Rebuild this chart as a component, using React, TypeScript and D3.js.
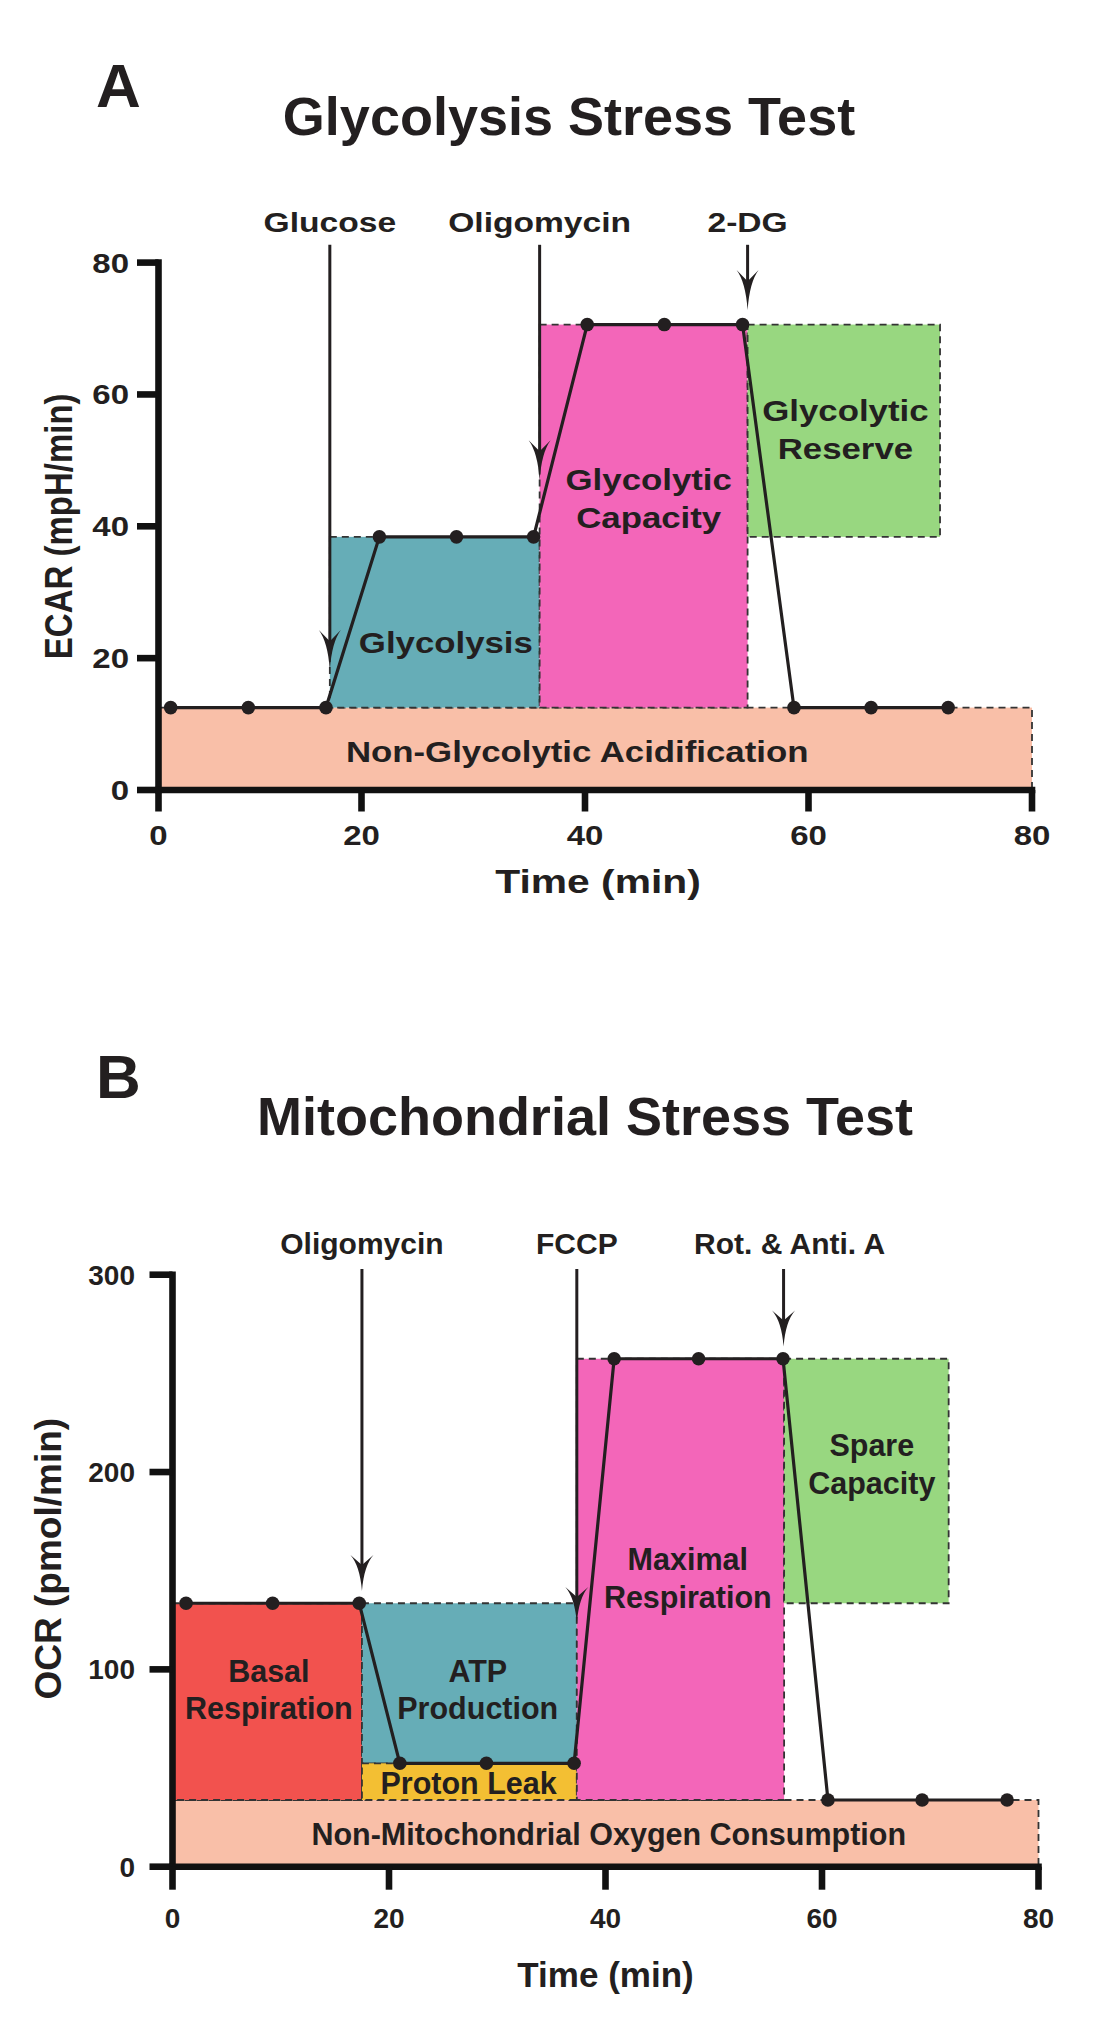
import React from 'react';
import * as d3 from 'd3';

// ---------- Panel A : Glycolysis Stress Test ----------
const aTime = [1.2, 8.85, 16.5, 21.6, 28.5, 35.4, 40.2, 47.1, 54.1, 58.7, 65.6, 72.5];
const aEcar = [12.5, 12.5, 12.5, 38.4, 38.4, 38.4, 70.6, 70.6, 70.6, 12.5, 12.5, 12.5];
const aXTicks = [0, 20, 40, 60, 80];
const aYTicks = [0, 20, 40, 60, 80];
const aInjLabels = ['Glucose', 'Oligomycin', '2-DG'];
const aInjTimes = [16.88, 35.94, 54.55];
const aInjLabelTimes = [16.88, 35.94, 54.55];
const aInjTips = [18.2, 47.0, 72.8];
const aRegionLines = [['Non-Glycolytic Acidification'], ['Glycolysis'], ['Glycolytic', 'Capacity'], ['Glycolytic', 'Reserve']];
const aRegionX0 = [0, 16.88, 35.94, 54.55];
const aRegionX1 = [80, 35.94, 54.55, 71.77];
const aRegionY0 = [0, 12.5, 12.5, 38.4];
const aRegionY1 = [12.5, 38.4, 70.6, 70.6];
const aRegionColors = ['#F9BFA8', '#66ADB7', '#F366B9', '#98D780'];
const aLabelX = [39.3, 27.55, 45.7, 63.3];
const aLabelY = [4.3, 20.8, 45.5, 55.9];

// ---------- Panel B : Mitochondrial Stress Test ----------
const bTime = [1.25, 9.25, 17.25, 21.0, 29.0, 37.1, 40.8, 48.6, 56.4, 60.55, 69.25, 77.1];
const bOcr = [133.5, 133.5, 133.5, 52.4, 52.4, 52.4, 257.4, 257.4, 257.4, 33.8, 33.8, 33.8];
const bXTicks = [0, 20, 40, 60, 80];
const bYTicks = [0, 100, 200, 300];
const bInjLabels = ['Oligomycin', 'FCCP', 'Rot. & Anti. A'];
const bInjTimes = [17.5, 37.35, 56.45];
const bInjLabelTimes = [17.5, 37.35, 57.0];
const bInjTips = [139.7, 123.5, 263.6];
const bRegionLines = [['Non-Mitochondrial Oxygen Consumption'], ['Basal', 'Respiration'], ['ATP', 'Production'], ['Proton Leak'], ['Maximal', 'Respiration'], ['Spare', 'Capacity']];
const bRegionX0 = [0, 0, 17.5, 17.5, 37.35, 56.5];
const bRegionX1 = [80, 17.5, 37.35, 37.35, 56.5, 71.7];
const bRegionY0 = [0, 33.8, 52.4, 33.8, 33.8, 133.5];
const bRegionY1 = [33.8, 133.5, 133.5, 52.4, 257.4, 257.4];
const bRegionColors = ['#F9BFA8', '#F2524E', '#66ADB7', '#F3BF33', '#F366B9', '#98D780'];
const bLabelX = [40.3, 8.9, 28.2, 27.35, 47.6, 64.6];
const bLabelY = [11.0, 93.75, 93.75, 36.8, 150.2, 208.0];

const FONT = "'Liberation Sans', Arial, Helvetica, sans-serif";
const INK = '#231F20';

type Layout = {
  letter: string; letterX: number; letterY: number;
  title: string; titleX: number; titleY: number; titleSize: number;
  xTitle: string; xTitleX: number; xTitleY: number; xTitleSize: number;
  yTitle: string; yTitleX: number; yTitleDy: number; yTitleSize: number;
  injLabelY: number; injSize: number;
  tickSize: number; yTickLabelX: number; xTickLabelY: number; tickLen: number;
  regionSize: number; lineGap: number; sx: number;
  headLen: number; headHalf: number;
};

function Txt(props: { x: number; y: number; sx?: number; size: number; anchor?: string; rotate?: number; children: React.ReactNode }) {
  const { x, y, sx = 1, size, anchor = 'middle', rotate, children } = props;
  const tr = `translate(${x},${y}) scale(${sx},1)` + (rotate ? ` rotate(${rotate})` : '');
  return (
    <text transform={tr} textAnchor={anchor} fontSize={size} fontFamily={FONT} fontWeight="bold" fill={INK}>
      {children}
    </text>
  );
}

function Panel(p: {
  xs: d3.ScaleLinear<number, number>; ys: d3.ScaleLinear<number, number>;
  xTicks: number[]; yTicks: number[]; times: number[]; values: number[];
  injLabels: string[]; injTimes: number[]; injLabelTimes: number[]; injTips: number[];
  rLines: string[][]; rX0: number[]; rX1: number[]; rY0: number[]; rY1: number[]; rColors: string[];
  lX: number[]; lY: number[]; L: Layout; arrowTopValue: number;
}) {
  const { xs, ys, L } = p;
  const x0 = xs(p.xTicks[0]);
  const xEnd = xs(p.xTicks[p.xTicks.length - 1]);
  const y0 = ys(p.yTicks[0]);
  const yEnd = ys(p.yTicks[p.yTicks.length - 1]);
  const line = d3.line<number>().x((_, i) => xs(p.times[i])).y((v) => ys(v));
  const arrowTopPx = ys(p.arrowTopValue);

  return (
    <g>
      {p.rLines.map((_, i) => (
        <rect key={'r' + i}
          x={xs(p.rX0[i])} y={ys(p.rY1[i])}
          width={xs(p.rX1[i]) - xs(p.rX0[i])} height={ys(p.rY0[i]) - ys(p.rY1[i])}
          fill={p.rColors[i]} stroke="#333" strokeWidth={1.8} strokeDasharray="7 5" />
      ))}
      {p.rLines.map((lines, i) =>
        lines.map((t, j) => (
          <Txt key={'l' + i + '-' + j} x={xs(p.lX[i])} y={ys(p.lY[i]) + j * L.lineGap} sx={L.sx} size={L.regionSize}>{t}</Txt>
        ))
      )}
      {p.injTimes.map((t, i) => {
        const ax = xs(t);
        const tip = ys(p.injTips[i]);
        const h = L.headLen, w = L.headHalf;
        const head = `M${ax},${tip} Q${ax - 2},${tip - h * 0.7} ${ax - w},${tip - h} L${ax},${tip - h * 0.72} L${ax + w},${tip - h} Q${ax + 2},${tip - h * 0.7} ${ax},${tip} Z`;
        return (
          <g key={'a' + i}>
            <line x1={ax} x2={ax} y1={arrowTopPx} y2={tip - h * 0.6} stroke={INK} strokeWidth={3} />
            <path d={head} fill={INK} />
            <Txt x={xs(p.injLabelTimes[i])} y={L.injLabelY} sx={L.sx} size={L.injSize}>{p.injLabels[i]}</Txt>
          </g>
        );
      })}
      <path d={line(p.values) || ''} fill="none" stroke={INK} strokeWidth={3.2} />
      {p.values.map((v, i) => (
        <circle key={'c' + i} cx={xs(p.times[i])} cy={ys(v)} r={6.8} fill={INK} />
      ))}
      <line x1={x0} x2={x0} y1={yEnd} y2={y0} stroke="#111" strokeWidth={6.6} strokeLinecap="square" />
      <line x1={x0} x2={xEnd} y1={y0} y2={y0} stroke="#111" strokeWidth={6.6} strokeLinecap="square" />
      {p.yTicks.map((v) => (
        <g key={'yt' + v}>
          <line x1={x0 - L.tickLen} x2={x0} y1={ys(v)} y2={ys(v)} stroke="#111" strokeWidth={6.6} />
          <Txt x={L.yTickLabelX} y={ys(v) + L.tickSize * 0.36} sx={L.sx} size={L.tickSize} anchor="end">{String(v)}</Txt>
        </g>
      ))}
      {p.xTicks.map((v) => (
        <g key={'xt' + v}>
          <line x1={xs(v)} x2={xs(v)} y1={y0} y2={y0 + L.tickLen} stroke="#111" strokeWidth={6.6} />
          <Txt x={xs(v)} y={L.xTickLabelY} sx={L.sx} size={L.tickSize}>{String(v)}</Txt>
        </g>
      ))}
      <Txt x={L.xTitleX} y={L.xTitleY} sx={L.sx} size={L.xTitleSize}>{L.xTitle}</Txt>
      <Txt x={L.yTitleX} y={(y0 + yEnd) / 2 + L.yTitleDy} sx={L.sx} size={L.yTitleSize} rotate={-90}>{L.yTitle}</Txt>
      <Txt x={L.titleX} y={L.titleY} size={L.titleSize}>{L.title}</Txt>
      <Txt x={L.letterX} y={L.letterY} size={62} anchor="start">{L.letter}</Txt>
    </g>
  );
}

const layoutA: Layout = {
  letter: 'A', letterX: 96, letterY: 107,
  title: 'Glycolysis Stress Test', titleX: 569, titleY: 135, titleSize: 54,
  xTitle: 'Time (min)', xTitleX: 598, xTitleY: 893, xTitleSize: 34,
  yTitle: 'ECAR (mpH/min)', yTitleX: 71.5, yTitleDy: 0, yTitleSize: 33,
  injLabelY: 231.5, injSize: 28,
  tickSize: 27.5, yTickLabelX: 129, xTickLabelY: 845, tickLen: 21.5,
  regionSize: 29, lineGap: 37.7, sx: 1.2,
  headLen: 40, headHalf: 11,
};

const layoutB: Layout = {
  letter: 'B', letterX: 96, letterY: 1098,
  title: 'Mitochondrial Stress Test', titleX: 585, titleY: 1135, titleSize: 54,
  xTitle: 'Time (min)', xTitleX: 605.5, xTitleY: 1986.5, xTitleSize: 35,
  yTitle: 'OCR (pmol/min)', yTitleX: 61, yTitleDy: -12, yTitleSize: 37,
  injLabelY: 1254, injSize: 30,
  tickSize: 28, yTickLabelX: 135, xTickLabelY: 1928, tickLen: 23,
  regionSize: 30.5, lineGap: 37.5, sx: 1,
  headLen: 36, headHalf: 11.5,
};

export default function App() {
  const xsA = d3.scaleLinear().domain([0, 20, 80]).range([158.5, 361.5, 1032]);
  const ysA = d3.scaleLinear().domain([0, 80]).range([790, 262.6]);
  const xsB = d3.scaleLinear().domain([0, 80]).range([172.5, 1038.5]);
  const ysB = d3.scaleLinear().domain([0, 300]).range([1866.7, 1274.7]);

  return (
    <svg width={1108} height={2040} style={{ position: 'absolute', left: 0, top: 0, background: '#fff' }}>
      <rect x={0} y={0} width={1108} height={2040} fill="#fff" />
      <Panel xs={xsA} ys={ysA} xTicks={aXTicks} yTicks={aYTicks} times={aTime} values={aEcar}
        injLabels={aInjLabels} injTimes={aInjTimes} injLabelTimes={aInjLabelTimes} injTips={aInjTips}
        rLines={aRegionLines} rX0={aRegionX0} rX1={aRegionX1} rY0={aRegionY0} rY1={aRegionY1} rColors={aRegionColors}
        lX={aLabelX} lY={aLabelY} L={layoutA} arrowTopValue={82.7} />
      <Panel xs={xsB} ys={ysB} xTicks={bXTicks} yTicks={bYTicks} times={bTime} values={bOcr}
        injLabels={bInjLabels} injTimes={bInjTimes} injLabelTimes={bInjLabelTimes} injTips={bInjTips}
        rLines={bRegionLines} rX0={bRegionX0} rX1={bRegionX1} rY0={bRegionY0} rY1={bRegionY1} rColors={bRegionColors}
        lX={bLabelX} lY={bLabelY} L={layoutB} arrowTopValue={302.9} />
    </svg>
  );
}
